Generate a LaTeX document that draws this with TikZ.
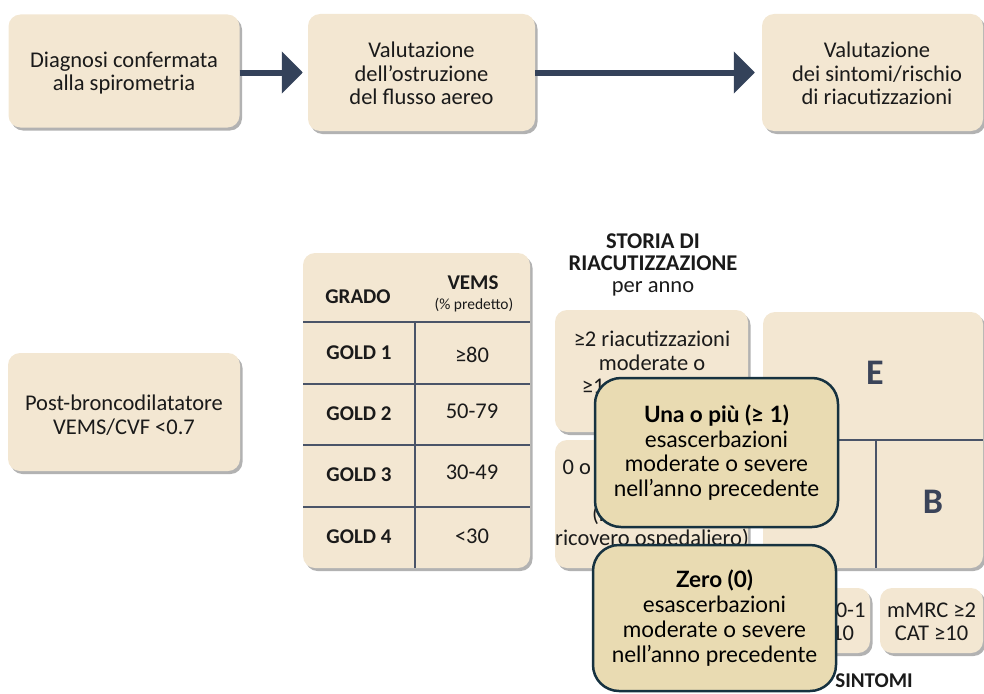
\documentclass[tikz,border=0pt]{standalone}
\usepackage{fontspec}
\setmainfont{Carlito}
\newfontfamily\ovfont{Lato}
\usetikzlibrary{arrows.meta,shadows}
\definecolor{beige}{HTML}{F3E7D2}
\definecolor{ovfill}{HTML}{E9DBB2}
\definecolor{ovdraw}{HTML}{163240}
\definecolor{arrc}{HTML}{34425A}
\definecolor{gridc}{HTML}{4A5468}
\definecolor{letc}{HTML}{3B4459}
\definecolor{txt}{HTML}{1A1A1A}
\tikzset{
  bbox/.style={fill=beige, draw=none, rounded corners=12pt, inner sep=0pt,
    drop shadow={shadow xshift=2.5pt, shadow yshift=-3pt, opacity=0.3, fill=black}},
  tx/.style={text=txt, align=center, inner sep=0pt, font=\fontsize{22.5}{23.5}\selectfont},
  txb/.style={tx, font=\fontsize{21}{22}\selectfont\bfseries},
  big/.style={text=letc, inner sep=0pt, font=\fontsize{36}{36}\selectfont\bfseries},
  grid line/.style={draw=gridc, line width=1.3pt},
  flow/.style={draw=arrc, line width=6pt, -{Triangle[length=21pt,width=41pt]}},
  ovbox/.style={fill=ovfill, draw=ovdraw, line width=2.5pt, rounded corners=26pt,
    inner sep=0pt, text=black, align=center, font=\ovfont\fontsize{22.5}{24.8}\selectfont},
}
\begin{document}
\begin{tikzpicture}[x=1pt,y=-1pt]
\useasboundingbox (0,0) rectangle (984,693);
% top row
\node[bbox, minimum width=231pt, minimum height=113pt] (b1) at (124,71) {};
\node[tx] (t1) at (124,73) {Diagnosi confermata\\alla spirometria};
\node[bbox, minimum width=227pt, minimum height=117pt] (b2) at (421.5,72.5) {};
\node[tx] (t2) at (421.5,73.5) {Valutazione\\dell’ostruzione\\del flusso aereo};
\node[bbox, minimum width=221pt, minimum height=117pt] (b3) at (872.5,72.5) {};
\node[tx] (t3) at (877,73.5) {Valutazione\\dei sintomi/rischio\\di riacutizzazioni};
\draw[flow, shorten >=5pt] (b1.east |- b2.west) -- (b2.west);
\draw[flow, shorten >=7pt] (b2.east) -- (b3.west);
% post-bronco
\node[bbox, minimum width=232pt, minimum height=118pt] (pb) at (124,412) {};
\node[tx] (pbt) at (124,415) {Post-broncodilatatore\\VEMS/CVF <0.7};
% table
\node[bbox, minimum width=227pt, minimum height=315pt] (tbl) at (416.5,410.5) {};
\coordinate (h1l) at (303,322); \coordinate (h1r) at (530,322);
\coordinate (h2l) at (303,384); \coordinate (h2r) at (530,384);
\coordinate (h3l) at (303,445); \coordinate (h3r) at (530,445);
\coordinate (h4l) at (303,507); \coordinate (h4r) at (530,507);
\coordinate (vt) at (415,322); \coordinate (vb) at (415,568);
\draw[grid line] (h1l) -- (h1r);
\draw[grid line] (h2l) -- (h2r);
\draw[grid line] (h3l) -- (h3r);
\draw[grid line] (h4l) -- (h4r);
\draw[grid line] (vt) -- (vb);
\node[txb] (grado) at (358,297) {GRADO};
\node[txb] (vems) at (473,283) {VEMS};
\node[tx, font=\fontsize{15.5}{16}\selectfont] (pred) at (474,305) {(\% predetto)};
\node[txb] (g1) at (359,353) {GOLD 1};
\node[txb] (g2) at (359,414) {GOLD 2};
\node[txb] (g3) at (359,475) {GOLD 3};
\node[txb] (g4) at (359,537) {GOLD 4};
\node[tx] (v1) at (472,355) {≥80};
\node[tx] (v2) at (472,411) {50-79};
\node[tx] (v3) at (472,472) {30-49};
\node[tx] (v4) at (472,536) {<30};
% storia
\node[tx, font=\fontsize{22.5}{22}\selectfont] (storia) at (653,265) {\textbf{STORIA DI}\\\textbf{RIACUTIZZAZIONE}\\per anno};
\node[bbox, minimum width=193pt, minimum height=122pt] (ex1) at (651.5,371) {};
\node[tx] (ex1t) at (652,376) {≥2 riacutizzazioni\\moderate o\\≥1 con ricovero\\ospedaliero};
\node[bbox, minimum width=193pt, minimum height=128pt] (ex2) at (651.5,504) {};
\node[tx] (ex2t) at (652,504) {0 o 1 riacutizzazioni\\moderate\\(nessuna con\\ricovero ospedaliero)};
% right grid
\node[bbox, minimum width=220pt, minimum height=256pt] (grid) at (873,440) {};
\coordinate (gl) at (763,440); \coordinate (gr) at (983,440);
\coordinate (gt) at (876,440); \coordinate (gb) at (876,568);
\draw[grid line] (gl) -- (gr);
\draw[grid line] (gt) -- (gb);
\node[big] (E) at (875,373) {E};
\node[big] (A) at (819,502) {A};
\node[big] (B) at (933,502) {B};
% sintomi
\node[bbox, minimum width=105pt, minimum height=65pt] (s1) at (817.5,620.5) {};
\node[tx] (s1t) at (817.5,622) {mMRC 0-1\\CAT <10};
\node[bbox, minimum width=103pt, minimum height=65pt] (s2) at (931.5,620.5) {};
\node[tx] (s2t) at (931.5,622) {mMRC ≥2\\CAT ≥10};
\node[txb, font=\fontsize{21}{22}\selectfont\bfseries] (sint) at (874,681) {SINTOMI};
% overlays
\node[ovbox, minimum width=243pt, minimum height=149pt] (ov1) at (716.5,452.5)
  {\textbf{Una o più (≥ 1)}\\esascerbazioni\\moderate o severe\\nell’anno precedente};
\node[ovbox, minimum width=243pt, minimum height=146pt] (ov2) at (714.5,618)
  {\textbf{Zero (0)}\\esascerbazioni\\moderate o severe\\nell’anno precedente};
\end{tikzpicture}
\end{document}
